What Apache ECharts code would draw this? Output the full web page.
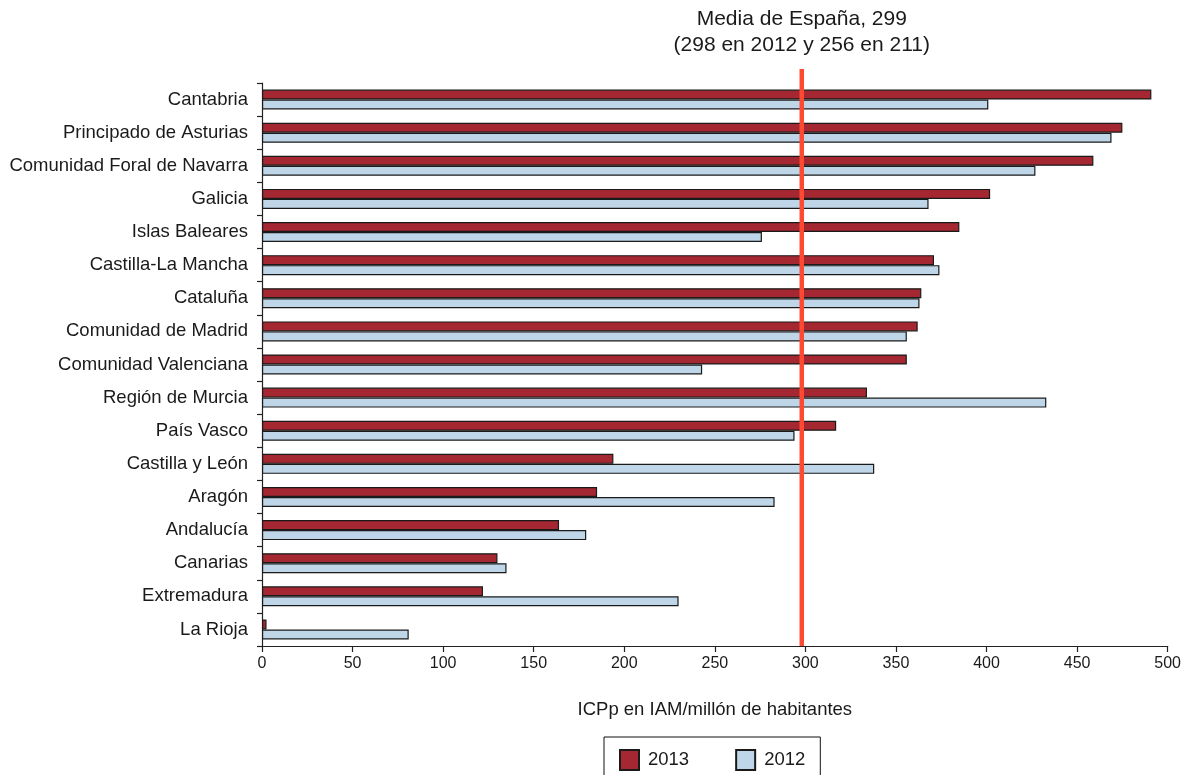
<!DOCTYPE html>
<html>
<head>
<meta charset="utf-8">
<script src="https://cdn.jsdelivr.net/npm/echarts@6/dist/echarts.min.js"></script>
<style>
  html, body { margin: 0; padding: 0; background: #fff; }
  #chart { width: 1184px; height: 775px; }
</style>
</head>
<body>
<div id="chart"></div>
<script>
const categories = [
  'Cantabria', 'Principado de Asturias', 'Comunidad Foral de Navarra', 'Galicia',
  'Islas Baleares', 'Castilla-La Mancha', 'Cataluña', 'Comunidad de Madrid',
  'Comunidad Valenciana', 'Región de Murcia', 'País Vasco', 'Castilla y León',
  'Aragón', 'Andalucía', 'Canarias', 'Extremadura', 'La Rioja'
];
const values2013 = [491, 475, 459, 402, 385, 371, 364, 362, 356, 334, 317, 194, 185, 164, 130, 122, 2.5];
const values2012 = [401, 469, 427, 368, 276, 374, 363, 356, 243, 433, 294, 338, 283, 179, 135, 230, 81];
const xTicks = [0, 50, 100, 150, 200, 250, 300, 350, 400, 450, 500];
const meanValue = 298;
const titleLines = ['Media de España, 299', '(298 en 2012 y 256 en 211)'];
const xAxisTitle = 'ICPp en IAM/millón de habitantes';
const seriesNames = ['2013', '2012'];

const FONT = '"Liberation Sans", Arial, sans-serif';
const TEXT = '#1a1a1a';

const chart = echarts.init(document.getElementById('chart'), null, { renderer: 'canvas' });

const option = {
  animation: false,
  backgroundColor: '#ffffff',
  textStyle: { fontFamily: FONT, color: TEXT },
  grid: { left: 262, right: 13, top: 83, bottom: 129, containLabel: false },
  legend: {
    data: seriesNames,
    left: 604,
    top: 737,
    orient: 'horizontal',
    padding: [12, 15, 14, 15],
    itemGap: 46,
    itemWidth: 19,
    itemHeight: 20,
    borderColor: '#111',
    borderWidth: 1,
    icon: 'rect',
    textStyle: { fontFamily: FONT, fontSize: 18.5, color: TEXT, padding: [0, 0, 0, 4] }
  },
  xAxis: {
    type: 'value',
    min: xTicks[0],
    max: xTicks[xTicks.length - 1],
    interval: xTicks[1] - xTicks[0],
    name: xAxisTitle,
    nameLocation: 'middle',
    nameGap: 54,
    nameTextStyle: { fontFamily: FONT, fontSize: 18.5, color: TEXT },
    axisLine: { show: true, lineStyle: { color: '#222', width: 1.2 } },
    axisTick: { show: true, length: 6, lineStyle: { color: '#222', width: 1.2 } },
    axisLabel: { fontFamily: FONT, fontSize: 16, color: TEXT, margin: 10 },
    splitLine: { show: false }
  },
  yAxis: {
    type: 'category',
    data: categories,
    inverse: true,
    axisLine: { show: true, lineStyle: { color: '#222', width: 1.2 } },
    axisTick: { show: true, length: 5, alignWithLabel: false, lineStyle: { color: '#222', width: 1.2 } },
    axisLabel: { fontFamily: FONT, fontSize: 18.5, color: TEXT, margin: 14 },
    splitLine: { show: false }
  },
  series: [
    {
      name: seriesNames[0],
      type: 'bar',
      data: values2013,
      barWidth: 10,
      barGap: '0%',
      itemStyle: { color: '#A52731', borderColor: '#1a1a1a', borderWidth: 1.2 }
    },
    {
      name: seriesNames[1],
      type: 'bar',
      data: values2012,
      barWidth: 10,
      barGap: '0%',
      itemStyle: { color: '#BED6E8', borderColor: '#1a1a1a', borderWidth: 1.2 }
    }
  ]
};

chart.setOption(option);

// Mean line and its caption, positioned through the x axis scale
const px = chart.convertToPixel({ xAxisIndex: 0 }, meanValue);
chart.setOption({
  graphic: [
    {
      type: 'line',
      z: 100,
      shape: { x1: px, y1: 69, x2: px, y2: 646 },
      style: { stroke: '#FF4A33', lineWidth: 4.5 }
    },
    {
      type: 'text',
      z: 100,
      x: px,
      y: 19,
      style: { text: titleLines[0], font: '21px ' + FONT, fill: TEXT, textAlign: 'center', textVerticalAlign: 'middle' }
    },
    {
      type: 'text',
      z: 100,
      x: px,
      y: 45,
      style: { text: titleLines[1], font: '21px ' + FONT, fill: TEXT, textAlign: 'center', textVerticalAlign: 'middle' }
    }
  ]
});
</script>
</body>
</html>
